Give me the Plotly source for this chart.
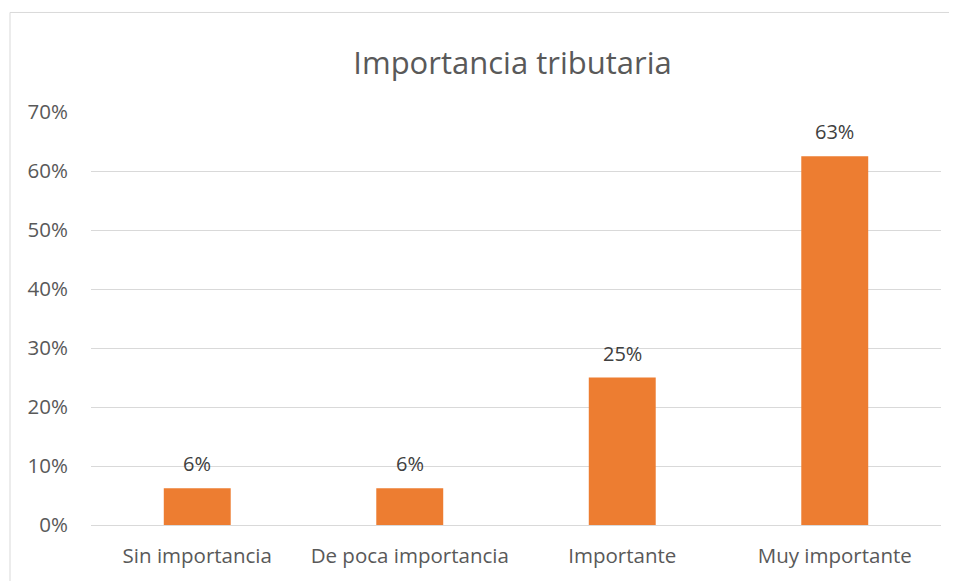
import plotly.graph_objects as go

categories = ["Sin importancia", "De poca importancia", "Importante", "Muy importante"]
values = [0.0625, 0.0625, 0.25, 0.625]
labels = ["6%", "6%", "25%", "63%"]
tick_vals = [0, 0.1, 0.2, 0.3, 0.4, 0.5, 0.6, 0.7]
tick_text = ["0%", "10%", "20%", "30%", "40%", "50%", "60%", "70%"]

FONT = "Open Sans"
W, H = 949, 573  # page body has an 8px margin
L, R, T, B = 83, 16, 104, 54
PW, PH = W - L - R, H - T - B

fig = go.Figure(go.Bar(
    x=categories, y=values,
    marker=dict(color="#ED7D31", line=dict(width=0)),
    hoverinfo="skip",
))

annotations = [
    dict(x=c, y=v, text=t, xref="x", yref="y", showarrow=False,
         yanchor="bottom", yshift=9,
         font=dict(family=FONT, size=20, color="#404040"))
    for c, v, t in zip(categories, values, labels)
]

fig.update_layout(
    width=W, height=H,
    margin=dict(l=L, r=R, t=T, b=B),
    paper_bgcolor="white", plot_bgcolor="white",
    bargap=0.685,
    showlegend=False,
    title=dict(text="Importancia tributaria", x=(512.5 - 8) / W, xanchor="center",
               y=1 - (63 - 8) / H, yanchor="middle",
               font=dict(family=FONT, size=31, color="#595959")),
    annotations=annotations,
    shapes=[dict(type="rect", xref="paper", yref="paper",
                 x0=(2 - L) / PW, x1=1 + (965 - (L + PW)) / PW,
                 y0=-(590 - (T + PH)) / PH, y1=1 + (T - 4) / PH,
                 line=dict(color="#D9D9D9", width=1), fillcolor="rgba(0,0,0,0)",
                 layer="below")],
    xaxis=dict(showgrid=False, showline=False, ticks="",
               tickfont=dict(family=FONT, size=20.5, color="#595959"),
               ticklabelstandoff=16),
    yaxis=dict(range=[0, 0.7], tickvals=tick_vals, ticktext=tick_text,
               showgrid=True, gridcolor="#D9D9D9", gridwidth=1,
               zeroline=True, zerolinecolor="#D9D9D9", zerolinewidth=1,
               showline=False, ticks="",
               tickfont=dict(family=FONT, size=20.5, color="#595959"),
               ticklabelstandoff=22),
)

fig.write_html("out.html")
